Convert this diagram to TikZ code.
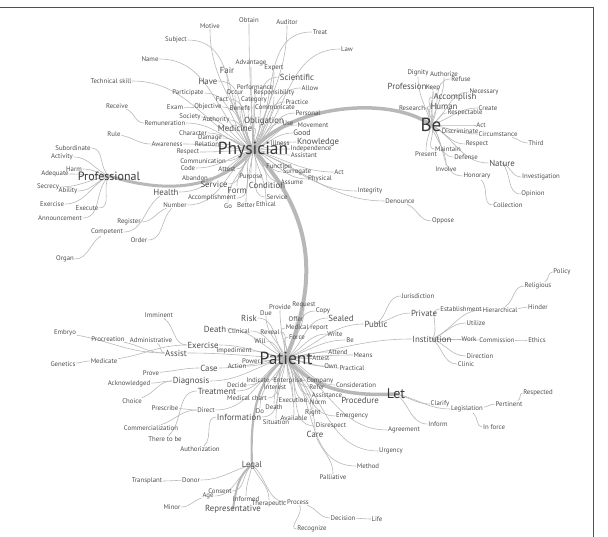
\documentclass[tikz,border=0pt]{standalone}
\usepackage{fontspec}
\setmainfont{PT Sans}
\usetikzlibrary{calc,backgrounds}
\definecolor{txt}{HTML}{4E4E4E}
\definecolor{hubtxt}{HTML}{383838}
\definecolor{edg}{HTML}{B8B8B8}
\definecolor{thk}{HTML}{B8B8B8}
\definecolor{frm}{HTML}{505050}
\tikzset{
 w/.style={font=\fontsize{6.8}{7}\selectfont, text=txt, inner sep=0.6pt},
 m/.style={font=\fontsize{8.8}{9}\selectfont, text=txt, inner sep=0.6pt},
 hub/.style={text=hubtxt, inner sep=0.6pt},
 lnk/.style={draw=edg, line width=0.6pt},
 thk/.style={draw=thk, line width=3.5pt, line cap=round},
}
\newcommand\lk[2]{\draw[lnk] let \p1=(#1.center),\p2=(#2.center),\n1={atan2(\y2-\y1,\x2-\x1)},\n2={abs(\y2-\y1)>2*abs(\x2-\x1) ? (\y2>\y1 ? 270 : 90) : (\x2<\x1 ? 0 : 180)} in (#1.center) to[out=\n1,in=\n2] (#2);}
\newcommand\lkn[2]{\draw[lnk] let \p1=(#1.center),\p2=(#2.center),\n1={atan2(\y2-\y1,\x2-\x1)},\n2={abs(\y2-\y1)>2*abs(\x2-\x1) ? (\y2>\y1 ? 270 : 90) : (\x2<\x1 ? 0 : 180)} in (#1) to[out=\n1,in=\n2] (#2);}
\begin{document}
\begin{tikzpicture}[x=1pt,y=-1pt]
\useasboundingbox (0,0) rectangle (608,537);
\draw[frm, line width=1pt] (0,8) -- (593,8) -- (593,537);
% ---------- Physician cluster
\node[hub, font=\fontsize{17.5}{18}\selectfont] (Phy) at (253,150) {Physician};
\node[w] (Motive) at (210,26) {Motive};
\node[w] (Obtain) at (249,20) {Obtain};
\node[w] (Auditor) at (287,22) {Auditor};
\node[w] (Treat) at (320,32) {Treat};
\node[w] (Subject) at (176,40) {Subject};
\node[w] (Law) at (347,49) {Law};
\node[w] (Name) at (150,59) {Name};
\node[w] (Advantage) at (251,63) {Advantage};
\node[m] (Fair) at (227,70) {Fair};
\node[w] (Expert) at (274,68) {Expert};
\node[m] (Scientific) at (297,77) {Scientific};
\node[m] (Have) at (208,81) {Have};
\node[w] (Tech) at (111,81) {Technical skill};
\node[w] (Performance) at (255,87) {Performance};
\node[w] (Responsibility) at (274,93) {Responsibility};
\node[w] (Allow) at (310,88) {Allow};
\node[w] (Participate) at (188,93) {Participate};
\node[w] (Occur) at (235,92) {Occur};
\node[w] (Fact) at (222,99) {Fact};
\node[w] (Category) at (254,100) {Category};
\node[w] (Practice) at (297,102) {Practice};
\node[w] (Receive) at (117,106) {Receive};
\node[w] (Exam) at (175,107) {Exam};
\node[w] (Objective) at (208,107) {Objective};
\node[w] (Benefit) at (240,108) {Benefit};
\node[w] (Communicate) at (275,107) {Communicate};
\node[w] (Personal) at (308,113) {Personal};
\node[w] (Society) at (190,117) {Society};
\node[w] (Remuneration) at (165,123) {Remuneration};
\node[w] (Authority) at (216,120) {Authority};
\node[m] (Obligation) at (264,121) {Obligation};
\node[w] (Use) at (288,123) {Use};
\node[w] (Movement) at (313,125) {Movement};
\node[m] (Medicine) at (235,128) {Medicine};
\node[m, font=\fontsize{7.8}{8}\selectfont] (Good) at (302,133) {Good};
\node[w] (Character) at (193,133) {Character};
\node[w] (Rule) at (114,134) {Rule};
\node[w] (Damage) at (210,138) {Damage};
\node[w] (Awareness) at (167,144) {Awareness};
\node[w] (Relation) at (207,144) {Relation};
\node[w] (Illness) at (280,143) {Illness};
\node[m] (Knowledge) at (318,142) {Knowledge};
\node[w] (Independence) at (311,149) {Independence};
\node[w] (Respect) at (188,152) {Respect};
\node[w] (Assistant) at (304,155) {Assistant};
\node[w] (Communication) at (203,161) {Communication};
\node[w] (Function) at (279,166) {Function};
\node[w] (Code) at (188,168) {Code};
\node[w] (Attest) at (227,169) {Attest};
\node[w] (Surrogate) at (297,172) {Surrogate};
\node[w] (ActA) at (339,172) {Act};
\node[w] (Abandon) at (195,178) {Abandon};
\node[w] (Purpose) at (251,177) {Purpose};
\node[w] (Physical) at (320,179) {Physical};
\node[m] (Service) at (214,184) {Service};
\node[w] (Assume) at (292,182) {Assume};
\node[m] (Condition) at (267,185) {Condition};
\node[m] (Health) at (166,192) {Health};
\node[m] (Form) at (237,190) {Form};
\node[w] (Integrity) at (370,191) {Integrity};
\node[w] (Accomplishment) at (212,198) {Accomplishment};
\node[w] (ServiceB) at (277,197) {Service};
\node[w] (Denounce) at (400,201) {Denounce};
\node[w] (Ethical) at (266,204) {Ethical};
\node[w] (Better) at (246,205) {Better};
\node[w] (Go) at (228,206) {Go};
\node[w] (Number) at (175,205) {Number};
\node[w] (Oppose) at (443,221) {Oppose};
% ---------- Professional cluster
\node[hub, font=\fontsize{12}{12}\selectfont] (Prof) at (109,176) {Professional};
\node[w] (Subordinate) at (73,148) {Subordinate};
\node[w] (Activity) at (62,157) {Activity};
\node[w] (Harm) at (74,169) {Harm};
\node[w] (Adequate) at (55,174) {Adequate};
\node[w] (Secrecy) at (48,187) {Secrecy};
\node[w] (Ability) at (68,191) {Ability};
\node[w] (ExerciseA) at (52,204) {Exercise};
\node[w] (Execute) at (87,208) {Execute};
\node[w] (Announcement) at (60,218) {Announcement};
\node[w] (Register) at (129,222) {Register};
\node[w] (Competent) at (107,232) {Competent};
\node[w] (Order) at (139,240) {Order};
\node[w] (Organ) at (65,259) {Organ};
% ---------- Be cluster
\node[hub, font=\fontsize{19}{19}\selectfont] (Be) at (431,125) {Be};
\node[w] (Dignity) at (418,73) {Dignity};
\node[w] (Authorize) at (444,74) {Authorize};
\node[w] (Refuse) at (461,79) {Refuse};
\node[m] (Profession) at (407,86) {Profession};
\node[w] (Keep) at (433,88) {Keep};
\node[w] (Necessary) at (484,92) {Necessary};
\node[m] (Accomplish) at (455,97) {Accomplish};
\node[w] (Research) at (412,108) {Research};
\node[m] (Human) at (444,106) {Human};
\node[w] (Create) at (488,108) {Create};
\node[w] (Respectable) at (465,113) {Respectable};
\node[w] (ActB) at (481,125) {Act};
\node[w] (Discriminate) at (460,131) {Discriminate};
\node[w] (Circumstance) at (498,134) {Circumstance};
\node[w] (Third) at (536,143) {Third};
\node[w] (RespectB) at (477,144) {Respect};
\node[w] (Maintain) at (448,149) {Maintain};
\node[w] (Present) at (426,154) {Present};
\node[w] (Defense) at (466,157) {Defense};
\node[m] (Nature) at (502,163) {Nature};
\node[w] (Involve) at (446,169) {Involve};
\node[w] (Honorary) at (477,176) {Honorary};
\node[w] (Investigation) at (541,177) {Investigation};
\node[w] (Opinion) at (533,194) {Opinion};
\node[w] (Collection) at (508,205) {Collection};
% ---------- Patient cluster
\node[hub, font=\fontsize{17.5}{18}\selectfont] (Pat) at (286,358) {Patient};
\node[w] (Imminent) at (159,315) {Imminent};
\node[w] (Provide) at (280,307) {Provide};
\node[w] (Request) at (304,305) {Request};
\node[w] (Due) at (266,313) {Due};
\node[w] (Copy) at (323,311) {Copy};
\node[m] (Risk) at (249,318) {Risk};
\node[m] (Sealed) at (341,318) {Sealed};
\node[w] (Offer) at (296,319) {Offer};
\node[m] (Public) at (376,324) {Public};
\node[m] (DeathA) at (215,329) {Death};
\node[w] (Clinical) at (239,331) {Clinical};
\node[w] (Reveal) at (270,332) {Reveal};
\node[w] (MedReport) at (307,328) {Medical report};
\node[w] (Write) at (335,334) {Write};
\node[w] (Embryo) at (65,333) {Embryo};
\node[w] (Procreation) at (108,339) {Procreation};
\node[w] (Administrative) at (151,340) {Administrative};
\node[w] (Will) at (260,341) {Will};
\node[w] (Force) at (297,337) {Force};
\node[w] (BeB) at (350,340) {Be};
\node[m] (ExerciseB) at (203,345) {Exercise};
\node[w] (Impediment) at (234,351) {Impediment};
\node[w] (Attend) at (338,352) {Attend};
\node[m] (Assist) at (176,353) {Assist};
\node[w] (Means) at (363,355) {Means};
\node[w] (Power) at (251,361) {Power};
\node[w] (AttestB) at (321,358) {Attest};
\node[w] (Genetics) at (63,364) {Genetics};
\node[w] (Medicate) at (104,361) {Medicate};
\node[m] (Case) at (209,368) {Case};
\node[w] (Action) at (237,366) {Action};
\node[w] (Own) at (331,366) {Own};
\node[w] (Practical) at (352,368) {Practical};
\node[w] (Prove) at (151,373) {Prove};
\node[m] (Diagnosis) at (191,381) {Diagnosis};
\node[w] (Indicate) at (258,380) {Indicate};
\node[w] (Enterprise) at (288,381) {Enterprise};
\node[w] (Company) at (320,381) {Company};
\node[w] (Acknowledged) at (129,384) {Acknowledged};
\node[w] (Decide) at (237,385) {Decide};
\node[w] (Interest) at (275,387) {Interest};
\node[w] (Refer) at (317,387) {Refer};
\node[w] (Consideration) at (356,385) {Consideration};
\node[m] (Treatment) at (217,391) {Treatment};
\node[w] (Assistance) at (327,395) {Assistance};
\node[w] (MedChart) at (247,398) {Medical chart};
\node[w] (Execution) at (293,400) {Execution};
\node[hub, font=\fontsize{14}{14}\selectfont] (Let) at (396,394) {Let};
\node[m] (Procedure) at (360,400) {Procedure};
\node[w] (Choice) at (132,401) {Choice};
\node[w] (Norm) at (318,402) {Norm};
\node[w] (DeathB) at (274,407) {Death};
\node[w] (Prescribe) at (165,408) {Prescribe};
\node[w] (Direct) at (206,410) {Direct};
\node[w] (Do) at (260,411) {Do};
\node[w] (Right) at (313,413) {Right};
\node[w] (Emergency) at (352,416) {Emergency};
\node[m] (Information) at (239,417) {Information};
\node[w] (Available) at (294,418) {Available};
\node[w] (Situation) at (276,422) {Situation};
\node[w] (Disrespect) at (331,426) {Disrespect};
\node[w] (Commercialization) at (151,428) {Commercialization};
\node[m] (Care) at (315,434) {Care};
\node[w] (Agreement) at (404,430) {Agreement};
\node[w] (Thereto) at (165,439) {There to be};
\node[w] (Authorization) at (200,449) {Authorization};
\node[w] (Urgency) at (391,451) {Urgency};
\node[m] (Legal) at (252,465) {Legal};
\node[w] (Method) at (368,466) {Method};
\node[w] (Palliative) at (333,477) {Palliative};
\node[w] (Transplant) at (147,481) {Transplant};
\node[w] (Donor) at (191,480) {Donor};
\node[w] (Consent) at (220,491) {Consent};
\node[w] (Age) at (208,496) {Age};
\node[w] (Informed) at (246,499) {Informed};
\node[w] (Therapeutic) at (269,504) {Therapeutic};
\node[w] (Process) at (298,502) {Process};
\node[w] (Minor) at (172,507) {Minor};
\node[m] (Representative) at (233,509) {Representative};
\node[w] (Decision) at (343,518) {Decision};
\node[w] (Life) at (377,519) {Life};
\node[w] (Recognize) at (312,529) {Recognize};
% ---------- Institution side
\node[w] (Policy) at (562,272) {Policy};
\node[w] (Religious) at (538,286) {Religious};
\node[w] (Jurisdiction) at (418,296) {Jurisdiction};
\node[w] (Hinder) at (538,307) {Hinder};
\node[w] (Establishment) at (461,309) {Establishment};
\node[w] (Hierarchical) at (500,310) {Hierarchical};
\node[m] (Private) at (424,313) {Private};
\node[w] (Utilize) at (476,323) {Utilize};
\node[m] (Institution) at (432,339) {Institution};
\node[w] (Work) at (469,339) {Work};
\node[w] (Commission) at (497,340) {Commission};
\node[w] (Ethics) at (537,340) {Ethics};
\node[w] (Direction) at (480,356) {Direction};
\node[w] (Clinic) at (466,364) {Clinic};
\node[w] (Respected) at (538,393) {Respected};
\node[w] (Clarify) at (440,404) {Clarify};
\node[w] (Pertinent) at (509,404) {Pertinent};
\node[w] (Legislation) at (467,409) {Legislation};
\node[w] (Inform) at (438,424) {Inform};
\node[w] (InForce) at (494,427) {In force};
% ---------- connectors
\begin{pgfonlayer}{background}
\foreach \t in {Motive,Obtain,Auditor,Treat,Subject,Law,Name,Advantage,Fair,Expert,Scientific,Have,Tech,Performance,Responsibility,Allow,Participate,Occur,Fact,Category,Practice,Objective,Benefit,Communicate,Personal,Society,Remuneration,Authority,Obligation,Use,Movement,Medicine,Good,Character,Damage,Awareness,Relation,Illness,Knowledge,Independence,Respect,Assistant,Communication,Function,Code,Attest,Surrogate,ActA,Abandon,Service,Purpose,Physical,Assume,Condition,Form,Integrity,Accomplishment,ServiceB,Denounce,Go,Better,Ethical,Health,Number}{\lk{Phy}{\t}}
\lkn{Exam}{Objective}
\lkn{Receive}{Remuneration}
\lkn{Rule}{Awareness}
\lkn{Denounce}{Oppose}
\lkn{Health}{Competent}
\lkn{Competent}{Organ}
\lkn{Number}{Register}
\lkn{Number}{Order}
\foreach \t in {Subordinate,Activity,Harm,Adequate,Secrecy,Ability,ExerciseA,Execute,Announcement}{\lk{Prof}{\t}}
\foreach \t in {Dignity,Authorize,Refuse,Profession,Keep,Necessary,Accomplish,Research,Human,Create,Respectable,ActB,Discriminate,Circumstance,RespectB,Maintain,Present,Defense,Involve,Honorary,Nature}{\lk{Be}{\t}}
\lkn{Circumstance}{Third}
\lkn{Honorary}{Collection}
\lk{Nature}{Investigation}
\lk{Nature}{Opinion}
\foreach \t in {Provide,Request,Due,Copy,Risk,Sealed,Offer,Public,DeathA,Clinical,Reveal,MedReport,Write,Will,Force,BeB,ExerciseB,Impediment,Attend,Assist,Means,Power,AttestB,Case,Action,Own,Practical,Diagnosis,Indicate,Enterprise,Company,Decide,Interest,Refer,Consideration,Treatment,Assistance,MedChart,Execution,Norm,DeathB,Do,Right,Emergency,Information,Available,Situation,Disrespect,Care,Direct,Institution,Agreement,Urgency,Method}{\lk{Pat}{\t}}
\lkn{Imminent}{ExerciseB}
\lkn{Embryo}{Assist}
\lkn{Procreation}{Assist}
\lkn{Administrative}{Assist}
\lkn{Genetics}{Medicate}
\lkn{Medicate}{ExerciseB}
\lkn{Prove}{Case}
\lkn{Acknowledged}{Diagnosis}
\lkn{Choice}{Diagnosis}
\lkn{Prescribe}{Direct}
\lkn{Commercialization}{Direct}
\lkn{Thereto}{Treatment}
\lkn{Authorization}{Information}
\lkn{Care}{Palliative}
\lk{Public}{Jurisdiction}
\lk{Public}{Private}
\foreach \t in {Establishment,Hierarchical,Utilize,Work,Commission,Direction,Clinic}{\lk{Institution}{\t}}
\lkn{Hierarchical}{Religious}
\lkn{Religious}{Policy}
\lkn{Hierarchical}{Hinder}
\lkn{Commission}{Ethics}
\foreach \t in {Clarify,Legislation,Inform}{\lk{Let}{\t}}
\lkn{Legislation}{Pertinent}
\lkn{Pertinent}{Respected}
\lkn{Legislation}{InForce}
\foreach \t in {Donor,Consent,Age,Informed,Therapeutic,Process}{\lk{Legal}{\t}}
\lkn{Donor}{Transplant}
\lkn{Age}{Minor}
\lkn{Process}{Decision}
\lkn{Decision}{Life}
\lkn{Process}{Recognize}
% thick connectors
\draw[thk] (Phy.center) .. controls (290,105) and (390,95) .. (Be.center);
\draw[thk, line width=3pt] (Phy.center) .. controls (220,188) and (170,195) .. (Prof.center);
\draw[thk, line width=4pt] (Phy.center) .. controls (320,220) and (315,290) .. (Pat.center);
\draw[thk] (Pat.center) .. controls (310,385) and (340,397) .. (Let.center);
\draw[thk, line width=2.2pt] (Pat.center) .. controls (255,380) and (250,420) .. (Legal.center);
\draw[thk, line width=2pt] (Legal.center) .. controls (238,475) and (236,490) .. (Representative.center);
\end{pgfonlayer}
\end{tikzpicture}
\end{document}
